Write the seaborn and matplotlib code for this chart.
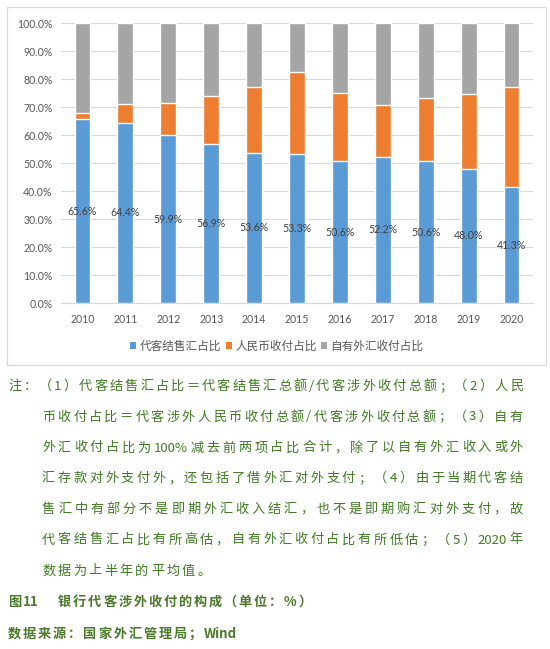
import matplotlib
matplotlib.use("Agg")
import matplotlib.pyplot as plt
from matplotlib.patches import Patch, Rectangle
import seaborn as sns
import pandas as pd
import numpy as np

# ---------------- data ----------------
years = ["2010", "2011", "2012", "2013", "2014", "2015", "2016", "2017", "2018", "2019", "2020"]
fx_settle = [65.6, 64.4, 59.9, 56.9, 53.6, 53.3, 50.6, 52.2, 50.6, 48.0, 41.3]   # 代客结售汇占比
rmb_pay = [2.1, 6.6, 11.7, 16.9, 23.7, 29.2, 24.3, 18.4, 22.7, 26.6, 35.9]       # 人民币收付占比
own_fx = [32.3, 29.0, 28.4, 26.2, 22.7, 17.5, 25.1, 29.4, 26.7, 25.4, 22.8]      # 自有外汇收付占比
series_names = ["代客结售汇占比", "人民币收付占比", "自有外汇收付占比"]
ytick_vals = [0, 10, 20, 30, 40, 50, 60, 70, 80, 90, 100]

note_lines = [
    "注：（1）代客结售汇占比＝代客结售汇总额/代客涉外收付总额；（2）人民",
    "币收付占比＝代客涉外人民币收付总额/代客涉外收付总额；（3）自有",
    "外汇收付占比为100%减去前两项占比合计，除了以自有外汇收入或外",
    "汇存款对外支付外，还包括了借外汇对外支付；（4）由于当期代客结",
    "售汇中有部分不是即期外汇收入结汇，也不是即期购汇对外支付，故",
    "代客结售汇占比有所高估，自有外汇收付占比有所低估；（5）2020年",
    "数据为上半年的平均值。",
]
fig_label = "图11"
fig_title = "银行代客涉外收付的构成（单位：%）"
source_text = "数据来源：国家外汇管理局；Wind"

# ---------------- style ----------------
sns.set_style("white")
plt.rcParams["font.family"] = ["Lato", "Noto Sans CJK SC", "DejaVu Sans"]

C_BLUE = "#5b9bd5"
C_ORANGE = "#ed7d31"
C_GRAY = "#a5a5a5"
C_GRID = "#d9d9d9"
C_TICK = "#595959"
C_NOTE = "#3f7d22"
C_TITLE = "#4b7a2a"

W, H = 550, 649
fig = plt.figure(figsize=(5.5, 6.49), dpi=100)
fig.patch.set_facecolor("white")

def fx(px):
    return px / W

def fy(py):
    return 1 - py / H

# chart border
fig.patches.append(Rectangle((fx(7), fy(365)), (546 - 7) / W, (365 - 7) / H,
                             transform=fig.transFigure, fill=False,
                             edgecolor=C_GRID, linewidth=0.9))

ax = fig.add_axes([fx(61), fy(303), (533 - 61) / W, (303 - 23) / H])

df = pd.DataFrame({"year": years, "a": fx_settle, "b": rmb_pay, "c": own_fx})
df["ab"] = df["a"] + df["b"]
df["abc"] = df["ab"] + df["c"]

bw = 0.37
sns.barplot(data=df, x="year", y="abc", color=C_GRAY, saturation=1, width=bw, ax=ax, zorder=2)
sns.barplot(data=df, x="year", y="ab", color=C_ORANGE, saturation=1, width=bw, ax=ax, zorder=3)
sns.barplot(data=df, x="year", y="a", color=C_BLUE, saturation=1, width=bw, ax=ax, zorder=4)

ax.bar_label(ax.containers[-1], labels=[f"{v:.1f}%" for v in fx_settle],
             label_type="center", fontsize=7.6, color="#404040", zorder=5)

ax.set_xlim(-0.5, len(years) - 0.5)
ax.set_ylim(0, 100)
ax.set_yticks(ytick_vals)
ax.set_yticklabels([f"{v:.1f}%" for v in ytick_vals])
ax.set_xlabel("")
ax.set_ylabel("")
ax.yaxis.grid(True, color=C_GRID, linewidth=0.8, zorder=0)
ax.set_axisbelow(True)
for s in ["top", "right", "left"]:
    ax.spines[s].set_visible(False)
ax.spines["bottom"].set_color(C_GRID)
ax.spines["bottom"].set_linewidth(0.9)
ax.tick_params(axis="y", length=0, pad=6, labelsize=7.6, labelcolor=C_TICK)
ax.tick_params(axis="x", which="major", length=0, pad=8, labelsize=7.6, labelcolor=C_TICK)
ax.set_xticks(np.arange(-0.5, len(years), 1.0), minor=True)
ax.tick_params(axis="x", which="minor", length=4, color=C_GRID, width=0.9)

handles = [Patch(facecolor=c, edgecolor="none") for c in (C_BLUE, C_ORANGE, C_GRAY)]
fig.legend(handles, series_names, loc="center", bbox_to_anchor=(fx(277), fy(346)),
           ncol=3, frameon=False, fontsize=8.4, handlelength=0.5, handleheight=0.5,
           handletextpad=0.3, columnspacing=0.4, labelcolor=C_TICK,
           prop={"family": ["Noto Sans CJK SC"], "size": 8.4})

# ---------------- notes text (justified) ----------------
renderer = fig.canvas.get_renderer()

def tokenize(s):
    toks, buf = [], ""
    for ch in s:
        if ord(ch) < 128:
            buf += ch
        else:
            if buf:
                toks.append(buf)
                buf = ""
            toks.append(ch)
    if buf:
        toks.append(buf)
    return toks

def place(line, x0, y, x1=None, gap=2.3, **kw):
    toks = tokenize(line)
    texts = [fig.text(0, 0, t, va="center", ha="left", **kw) for t in toks]
    widths = [t.get_window_extent(renderer).width for t in texts]
    if x1 is not None and len(toks) > 1:
        gap = (x1 - x0 - sum(widths)) / (len(toks) - 1)
    x = x0
    for t, w in zip(texts, widths):
        t.set_position((fx(x), fy(y)))
        x += w + gap

note_kw = dict(fontsize=9.5, color=C_NOTE, family=["Noto Sans CJK SC"])
ys = [386.5, 417, 448, 478.5, 509.5, 540, 571]
for i, (line, y) in enumerate(zip(note_lines, ys)):
    x0 = 8 if i == 0 else 42
    if i < len(note_lines) - 1:
        place(line, x0, y, x1=523, **note_kw)
    else:
        place(line, x0, y, gap=2.3, **note_kw)

title_kw = dict(fontsize=9.5, color=C_TITLE, family=["Noto Sans CJK SC"], fontweight="bold")
place(fig_label, 8, 602, gap=1.5, **title_kw)
place(fig_title, 58, 602, gap=1.8, **title_kw)
place(source_text, 8, 634, gap=1.8, **title_kw)

fig.savefig("out.png", dpi=100, facecolor="white")
